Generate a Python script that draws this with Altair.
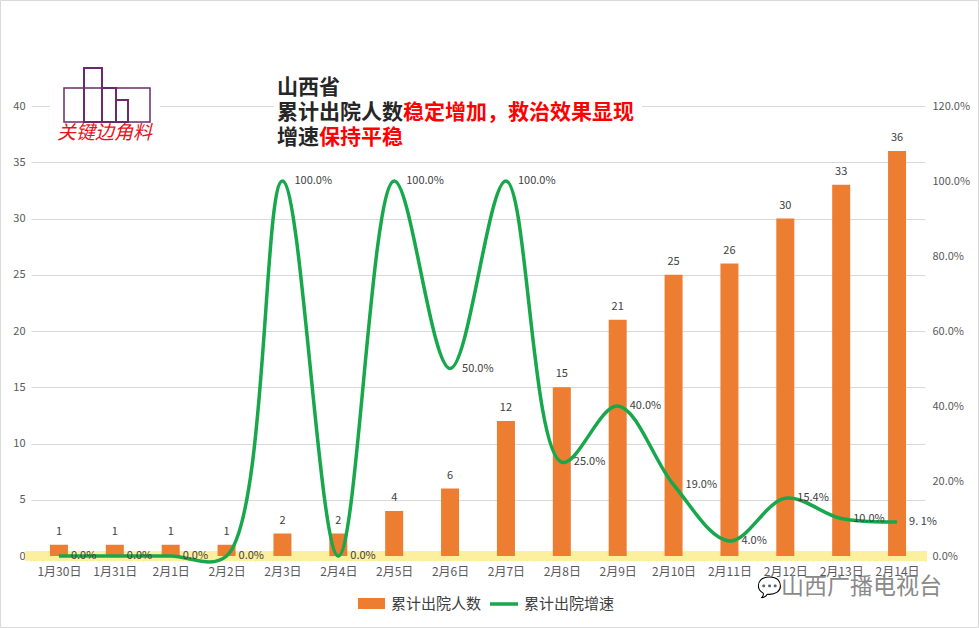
import altair as alt
import pandas as pd

dates = ["1月30日", "1月31日", "2月1日", "2月2日", "2月3日", "2月4日", "2月5日", "2月6日",
         "2月7日", "2月8日", "2月9日", "2月10日", "2月11日", "2月12日", "2月13日", "2月14日"]
counts = [1, 1, 1, 1, 2, 2, 4, 6, 12, 15, 21, 25, 26, 30, 33, 36]
growth = [0.0, 0.0, 0.0, 0.0, 1.0, 0.0, 1.0, 0.5, 1.0, 0.25, 0.40, 0.19, 0.04, 0.154, 0.10, 0.091]
growth_labels = ["0.0%", "0.0%", "0.0%", "0.0%", "100.0%", "0.0%", "100.0%", "50.0%", "100.0%",
                 "25.0%", "40.0%", "19.0%", "4.0%", "15.4%", "10.0%", "9. 1%"]
left_ticks = [0, 5, 10, 15, 20, 25, 30, 35, 40]
right_ticks = [0, 0.2, 0.4, 0.6, 0.8, 1.0, 1.2]

df = pd.DataFrame({"date": dates, "count": counts, "growth": growth, "glabel": growth_labels})

W, H = 894, 450
OX, OY = 31, 106
FONT = "Noto Sans CJK SC"
ORANGE = "#ED7D31"
GREEN = "#17A84B"
GRAY_TXT = "#595959"

xenc = alt.X("date:N", sort=dates, title=None,
             scale=alt.Scale(type="band", paddingInner=0, paddingOuter=0),
             axis=alt.Axis(labelAngle=0, labelFontSize=12, labelColor=GRAY_TXT, labelFont=FONT,
                           domainColor="#d9d9d9", tickColor="#e6dc9a", tickBand="extent",
                           tickSize=5, labelPadding=5, grid=False))

yleft = alt.Y("count:Q", title=None,
              scale=alt.Scale(domain=[0, 40]),
              axis=alt.Axis(values=left_ticks, labelFontSize=11, labelColor=GRAY_TXT, ticks=False,
                            domain=False, grid=True, gridColor="#d9d9d9", labelPadding=6))
yright = alt.Y("growth:Q", title=None,
               scale=alt.Scale(domain=[0, 1.2]),
               axis=alt.Axis(orient="right", values=right_ticks, format=".1%", labelFontSize=11,
                             labelColor=GRAY_TXT, ticks=False, domain=False, grid=False, labelPadding=7))

base = alt.Chart(df)

one = alt.Data(values=[{"a": 1}])


def txt(s, px, py, size, color="#262626", weight="normal", style="normal", align="left", font=FONT):
    return alt.Chart(one).mark_text(text=s, align=align, baseline="middle", fontSize=size, color=color,
                                    fontWeight=weight, fontStyle=style, font=font).encode(
        x=alt.value(px - OX), y=alt.value(py - OY))


def box(x1, y1, x2, y2, fill=None, stroke=None, sw=1):
    kw = {}
    if fill is not None:
        kw["fill"] = fill
    else:
        kw["fillOpacity"] = 0
    if stroke is not None:
        kw["stroke"] = stroke
        kw["strokeWidth"] = sw
    return alt.Chart(one).mark_rect(**kw).encode(
        x=alt.value(x1 - OX), x2=alt.value(x2 - OX), y=alt.value(y1 - OY), y2=alt.value(y2 - OY))


glow = base.mark_rule(color="#fbef9c", strokeWidth=10, opacity=0.55).encode(
    x=alt.value(-6), x2=alt.value(W + 2), y=alt.value(H))

bars = base.mark_bar(color=ORANGE, size=18).encode(x=xenc, y=yleft)
bar_text = base.mark_text(baseline="bottom", dy=-8, fontSize=11, color="#404040", font=FONT).encode(
    x=xenc, y=yleft, text="count:Q")
left_group = alt.layer(bars, bar_text)

line = base.mark_line(color=GREEN, strokeWidth=3.5, interpolate="catmull-rom").encode(x=xenc, y=yright)
line_text = base.mark_text(align="left", baseline="middle", dx=12, fontSize=11, color="#404040",
                           font=FONT).encode(x=xenc, y=yright, text="glabel:N")
right_group = alt.layer(line, line_text)

RED = "#ff0000"
PURPLE = "#6b2a6e"
backs = [
    box(50, 62, 160, 150, fill="white"),
    box(274, 74, 642, 152, fill="white"),
]
deco = [
    box(0.5, 0.5, 978.5, 627.5, stroke="#d9d9d9", sw=1),
    # title
    txt("山西省", 277, 88, 21, weight="bold"),
    txt("累计出院人数", 277, 113, 21, weight="bold"),
    txt("稳定增加，救治效果显现", 403, 113, 21, color=RED, weight="bold"),
    txt("增速", 277, 138, 21, weight="bold"),
    txt("保持平稳", 319, 138, 21, color=RED, weight="bold"),
    # logo
    box(84, 68, 102, 122, stroke=PURPLE, sw=2),
    box(102, 88, 116, 122, stroke=PURPLE, sw=2),
    box(116, 100, 128, 122, stroke=PURPLE, sw=2),
    box(64, 88, 150, 122, stroke=PURPLE, sw=1.5),
    txt("关键边角料", 57, 133, 19, color="#e8141b", style="italic"),
    # legend
    box(358, 598, 385, 609, fill=ORANGE),
    txt("累计出院人数", 391, 604, 15, color="#404040"),
    alt.Chart(one).mark_rule(color=GREEN, strokeWidth=3.5).encode(
        x=alt.value(490 - OX), x2=alt.value(518 - OX), y=alt.value(604 - OY)),
    txt("累计出院增速", 524, 604, 15, color="#404040"),
    # watermark
    txt("山西广播电视台", 781, 587, 23, color="#8a8a8a"),
    txt("💬", 757, 588, 20, color="#9a9a9a"),
]

chart = alt.layer(glow, left_group, right_group, *backs, *deco).resolve_scale(y="independent").properties(
    width=W, height=H,
    autosize=alt.AutoSizeParams(type="none"),
    padding={"left": OX, "top": OY, "right": 979 - OX - W, "bottom": 628 - OY - H},
    background="white",
).configure_view(stroke=None).configure_axis(labelFont=FONT)

chart.save("out.html", embed_options={"renderer": "svg", "actions": False})
